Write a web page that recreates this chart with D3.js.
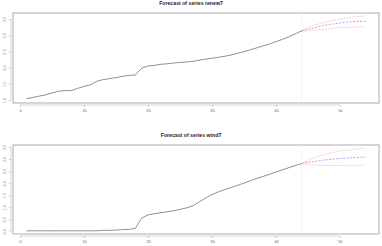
<!DOCTYPE html>
<html><head><meta charset="utf-8">
<script src="https://cdn.jsdelivr.net/npm/d3@7"></script>
<style>body{margin:0;background:#fff}svg{display:block}</style>
</head><body>
<svg id="c" width="382" height="246"></svg>
<script>
// ---- data ----
const time = d3.range(1, 45);
const renew7 = [1.04,1.08,1.12,1.16,1.22,1.27,1.29,1.29,1.36,1.42,1.47,1.58,1.63,1.66,1.69,1.73,1.76,1.77,1.98,2.05,
  2.07,2.10,2.12,2.14,2.16,2.17,2.19,2.23,2.26,2.29,2.32,2.35,2.39,2.44,2.49,2.55,2.61,2.67,2.73,2.80,2.87,2.95,3.04,3.13];
const wind7 = [0.02,0.02,0.02,0.02,0.02,0.02,0.02,0.02,0.02,0.02,0.02,0.02,0.04,0.04,0.05,0.07,0.08,0.12,0.55,0.68,
  0.73,0.77,0.81,0.85,0.91,0.97,1.06,1.22,1.38,1.53,1.64,1.73,1.82,1.91,2.00,2.10,2.19,2.28,2.37,2.46,2.55,2.64,2.73,2.81];
const fcTime = d3.range(45, 55);
const renewMean  = [3.18,3.23,3.28,3.32,3.35,3.38,3.40,3.42,3.43,3.43];
const renewUpper = [3.24,3.31,3.37,3.42,3.46,3.50,3.53,3.56,3.58,3.60];
const renewLower = [3.13,3.15,3.17,3.19,3.21,3.23,3.24,3.25,3.26,3.26];
const windMean  = [2.86,2.90,2.94,2.97,3.00,3.02,3.04,3.06,3.07,3.08];
const windUpper = [2.95,3.06,3.15,3.22,3.28,3.33,3.37,3.40,3.42,3.44];
const windLower = [2.77,2.75,2.74,2.73,2.73,2.73,2.73,2.74,2.74,2.74];
const xTicks = [0,10,20,30,40,50];
const renewTicks = [1.0,1.5,2.0,2.5,3.0,3.5];
const windTicks = [0.0,0.5,1.0,1.5,2.0,2.5,3.0,3.5];
const titles = ["Forecast of series renew7", "Forecast of series wind7"];

const svg = d3.select("#c");

function panel(o){
  const x = d3.scaleLinear().domain([-1.12, 56.12]).range([13, 379]);
  const y = d3.scaleLinear().domain(o.ydom).range([o.bottom, o.top]);
  const g = svg.append("g");
  g.append("text").attr("x", 191).attr("y", o.top - 8)
    .attr("text-anchor","middle").attr("font-family","Liberation Sans, Arial, sans-serif")
    .attr("font-weight","bold").attr("font-size", 5.2).attr("fill","#222").text(o.title);
  g.append("rect").attr("x",13).attr("y",o.top).attr("width",366).attr("height",o.bottom-o.top)
    .attr("fill","none").attr("stroke","#999").attr("stroke-width",0.8);
  // x axis
  const xa = g.append("g").attr("transform",`translate(0,${o.bottom+2})`)
    .call(d3.axisBottom(x).tickValues(xTicks).tickSize(2).tickFormat(d3.format("d")));
  xa.select(".domain").attr("d", `M${x(0)},0H${x(50)}`).attr("stroke","#aaa").attr("stroke-width",0.5);
  xa.selectAll(".tick line").attr("stroke","#999").attr("stroke-width",0.5);
  xa.selectAll("text").attr("font-size",4).attr("fill","#666").attr("dy","0.5em")
    .attr("font-family","Liberation Sans, Arial, sans-serif");
  // y axis
  const ya = g.append("g").attr("transform",`translate(11,0)`)
    .call(d3.axisLeft(y).tickValues(o.yticks).tickSize(2).tickFormat(d3.format(".1f")));
  ya.select(".domain").attr("d", `M0,${y(o.yticks[0])}V${y(o.yticks[o.yticks.length-1])}`).attr("stroke","#aaa").attr("stroke-width",0.5);
  ya.selectAll(".tick line").attr("stroke","#999").attr("stroke-width",0.5);
  ya.selectAll("text").attr("font-size",4).attr("fill","#a77")
    .attr("font-family","Liberation Sans, Arial, sans-serif")
    .attr("transform","rotate(-90)").attr("x",0).attr("y",-5).attr("dy",0).attr("text-anchor","middle");
  // vertical line at forecast origin
  g.append("line").attr("x1",x(44)).attr("x2",x(44)).attr("y1",o.top).attr("y2",o.bottom)
    .attr("stroke","#e4dede").attr("stroke-width",0.6).attr("stroke-dasharray","1,1");
  const line = d3.line().x(d=>x(d[0])).y(d=>y(d[1]));
  g.append("path").datum(time.map((t,i)=>[t,o.obs[i]])).attr("d",line)
    .attr("fill","none").attr("stroke","#444").attr("stroke-width",0.6);
  const last = [44, o.obs[o.obs.length-1]];
  const fc = arr => [last].concat(fcTime.map((t,i)=>[t,arr[i]]));
  [o.upper,o.lower].forEach(a=>{
    g.append("path").datum(fc(a)).attr("d",line).attr("fill","none")
      .attr("stroke","#ff9090").attr("stroke-width",0.6).attr("stroke-dasharray","1.2,1");
  });
  g.append("path").datum(fc(o.mean)).attr("d",line).attr("fill","none")
    .attr("stroke","#6a6aff").attr("stroke-width",0.6).attr("stroke-dasharray","2,1.5");
}

panel({title:titles[0], top:13, bottom:103, ydom:[0.907,3.685], yticks:renewTicks,
  obs:renew7, mean:renewMean, upper:renewUpper, lower:renewLower});
panel({title:titles[1], top:145, bottom:234, ydom:[-0.112,3.583], yticks:windTicks,
  obs:wind7, mean:windMean, upper:windUpper, lower:windLower});
</script>
</body></html>
